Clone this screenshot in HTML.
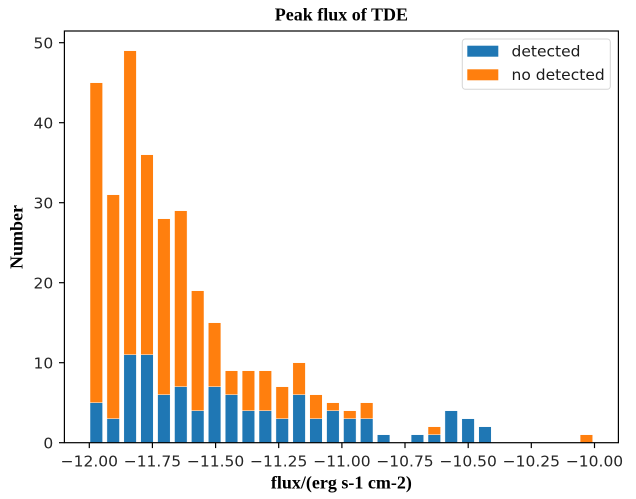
<!DOCTYPE html>
<html>
<head>
<meta charset="utf-8">
<style>
  html, body { margin: 0; padding: 0; background: #ffffff; }
  svg { display: block; }
  .tick { font-family: "DejaVu Sans", "Liberation Sans", sans-serif; font-size: 15.5px; fill: #262626; }
  .lbl { font-family: "Liberation Serif", serif; font-weight: bold; fill: #000; }
</style>
</head>
<body>
<svg width="636" height="499" viewBox="0 0 636 499" xmlns="http://www.w3.org/2000/svg">
  <rect x="0" y="0" width="636" height="499" fill="#ffffff"/>

  <!-- orange (total) bars -->
  <g fill="#ff7f0e" stroke="#ffffff" stroke-width="0.5">
    <rect x="90" y="82.7" width="12.6" height="360"/>
    <rect x="106.9" y="194.7" width="12.6" height="248"/>
    <rect x="123.8" y="50.7" width="12.6" height="392"/>
    <rect x="140.7" y="154.7" width="12.6" height="288"/>
    <rect x="157.6" y="218.7" width="12.6" height="224"/>
    <rect x="174.5" y="210.7" width="12.6" height="232"/>
    <rect x="191.4" y="290.7" width="12.6" height="152"/>
    <rect x="208.3" y="322.7" width="12.6" height="120"/>
    <rect x="225.2" y="370.7" width="12.6" height="72"/>
    <rect x="242.1" y="370.7" width="12.6" height="72"/>
    <rect x="259" y="370.7" width="12.6" height="72"/>
    <rect x="275.9" y="386.7" width="12.6" height="56"/>
    <rect x="292.8" y="362.7" width="12.6" height="80"/>
    <rect x="309.7" y="394.7" width="12.6" height="48"/>
    <rect x="326.6" y="402.7" width="12.6" height="40"/>
    <rect x="343.5" y="410.7" width="12.6" height="32"/>
    <rect x="360.4" y="402.7" width="12.6" height="40"/>
    <rect x="428" y="426.7" width="12.6" height="16"/>
    <rect x="580.1" y="434.7" width="12.6" height="8"/>
  </g>

  <!-- blue (detected) bars -->
  <g fill="#1f77b4" stroke="#ffffff" stroke-width="0.5">
    <rect x="90" y="402.7" width="12.6" height="40"/>
    <rect x="106.9" y="418.7" width="12.6" height="24"/>
    <rect x="123.8" y="354.7" width="12.6" height="88"/>
    <rect x="140.7" y="354.7" width="12.6" height="88"/>
    <rect x="157.6" y="394.7" width="12.6" height="48"/>
    <rect x="174.5" y="386.7" width="12.6" height="56"/>
    <rect x="191.4" y="410.7" width="12.6" height="32"/>
    <rect x="208.3" y="386.7" width="12.6" height="56"/>
    <rect x="225.2" y="394.7" width="12.6" height="48"/>
    <rect x="242.1" y="410.7" width="12.6" height="32"/>
    <rect x="259" y="410.7" width="12.6" height="32"/>
    <rect x="275.9" y="418.7" width="12.6" height="24"/>
    <rect x="292.8" y="394.7" width="12.6" height="48"/>
    <rect x="309.7" y="418.7" width="12.6" height="24"/>
    <rect x="326.6" y="410.7" width="12.6" height="32"/>
    <rect x="343.5" y="418.7" width="12.6" height="24"/>
    <rect x="360.4" y="418.7" width="12.6" height="24"/>
    <rect x="377.3" y="434.7" width="12.6" height="8"/>
    <rect x="411.1" y="434.7" width="12.6" height="8"/>
    <rect x="428" y="434.7" width="12.6" height="8"/>
    <rect x="444.9" y="410.7" width="12.6" height="32"/>
    <rect x="461.8" y="418.7" width="12.6" height="24"/>
    <rect x="478.7" y="426.7" width="12.6" height="16"/>
  </g>

  <!-- axes frame -->
  <rect x="64.4" y="31" width="554" height="411.7" fill="none" stroke="#000" stroke-width="1.2"/>

  <!-- y ticks -->
  <g stroke="#000" stroke-width="1.2">
    <line x1="59" y1="442.7" x2="64.4" y2="442.7"/>
    <line x1="59" y1="362.7" x2="64.4" y2="362.7"/>
    <line x1="59" y1="282.7" x2="64.4" y2="282.7"/>
    <line x1="59" y1="202.7" x2="64.4" y2="202.7"/>
    <line x1="59" y1="122.7" x2="64.4" y2="122.7"/>
    <line x1="59" y1="42.7" x2="64.4" y2="42.7"/>
  </g>
  <g class="tick" text-anchor="end">
    <text x="53.2" y="448.4">0</text>
    <text x="53.2" y="368.4">10</text>
    <text x="53.2" y="288.4">20</text>
    <text x="53.2" y="208.4">30</text>
    <text x="53.2" y="128.4">40</text>
    <text x="53.2" y="48.4">50</text>
  </g>

  <!-- x ticks -->
  <g stroke="#000" stroke-width="1.2">
    <line x1="89.3" y1="442.7" x2="89.3" y2="448.1"/>
    <line x1="152.4" y1="442.7" x2="152.4" y2="448.1"/>
    <line x1="215.6" y1="442.7" x2="215.6" y2="448.1"/>
    <line x1="278.7" y1="442.7" x2="278.7" y2="448.1"/>
    <line x1="341.9" y1="442.7" x2="341.9" y2="448.1"/>
    <line x1="405.0" y1="442.7" x2="405.0" y2="448.1"/>
    <line x1="468.2" y1="442.7" x2="468.2" y2="448.1"/>
    <line x1="531.3" y1="442.7" x2="531.3" y2="448.1"/>
    <line x1="594.5" y1="442.7" x2="594.5" y2="448.1"/>
  </g>
  <g class="tick" text-anchor="middle">
    <text x="89.3" y="466.5">−12.00</text>
    <text x="152.4" y="466.5">−11.75</text>
    <text x="215.6" y="466.5">−11.50</text>
    <text x="278.7" y="466.5">−11.25</text>
    <text x="341.9" y="466.5">−11.00</text>
    <text x="405.0" y="466.5">−10.75</text>
    <text x="468.2" y="466.5">−10.50</text>
    <text x="531.3" y="466.5">−10.25</text>
    <text x="594.5" y="466.5">−10.00</text>
  </g>

  <!-- title and axis labels -->
  <text class="lbl" x="341.4" y="20.3" text-anchor="middle" font-size="18">Peak flux of TDE</text>
  <text class="lbl" x="341.4" y="488.5" text-anchor="middle" font-size="18">flux/(erg s-1 cm-2)</text>
  <text class="lbl" transform="translate(22.5,237) rotate(-90)" text-anchor="middle" font-size="18">Number</text>

  <!-- legend -->
  <rect x="462.3" y="39" width="148" height="50.3" rx="3" ry="3" fill="#ffffff" fill-opacity="0.8" stroke="#d6d6d6" stroke-width="1"/>
  <rect x="467.3" y="45.7" width="31" height="11" fill="#1f77b4"/>
  <rect x="467.3" y="69.3" width="31" height="11" fill="#ff7f0e"/>
  <g class="tick" style="fill:#1a1a1a">
    <text x="511.5" y="56.6">detected</text>
    <text x="511.5" y="80.2">no detected</text>
  </g>
</svg>
</body>
</html>
